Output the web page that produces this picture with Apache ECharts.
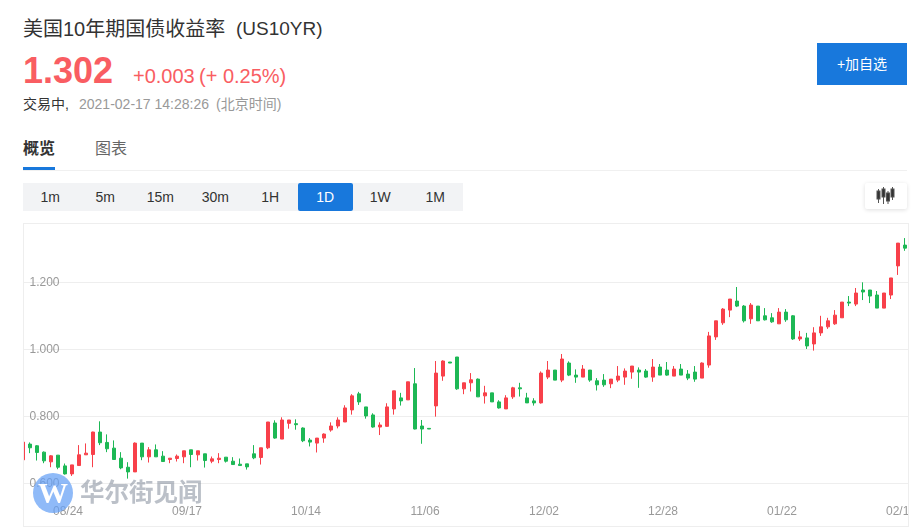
<!DOCTYPE html>
<html>
<head>
<meta charset="utf-8">
<script src="https://cdn.jsdelivr.net/npm/echarts@6/dist/echarts.min.js"></script>
<style>
html, body { margin: 0; padding: 0; background: #fff; }
body { width: 920px; height: 531px; position: relative; overflow: hidden; font-family: "Liberation Sans", "Noto Sans CJK SC", sans-serif; color: #333; }
.abs { position: absolute; white-space: nowrap; }
.up { color: #f95d62; }
.gray { color: #999; }
.periods { left: 23px; top: 183px; width: 440px; height: 28px; display: flex; background: #f7f8f9; border-radius: 2px; }
.periods div { width: 54.500px; margin-right: .5px; height: 28px; line-height: 28px; text-align: center; font-size: 14px; background: #f2f3f5; color: #333; }
.periods div.on { background: #1878dc; color: #fff; border-radius: 2px; }
.frame { left: 23px; top: 223px; width: 884px; height: 302px; border: 1px solid #eee; }
#clip { position: absolute; left: 24px; top: 224px; width: 884px; height: 302px; overflow: hidden; }
#chart { position: absolute; left: -24px; top: -224px; width: 920px; height: 531px; }
</style>
</head>
<body>
<div class="abs" style="left:23px;top:16px;font-size:20px;line-height:26px;">美国10年期国债收益率</div>
<div class="abs" style="left:236px;top:16px;font-size:19px;line-height:26px;">(US10YR)</div>
<div class="abs up" style="left:23px;top:49px;font-size:36px;line-height:44px;font-weight:bold;">1.302</div>
<div class="abs up" style="left:133px;top:63px;font-size:20px;line-height:26px;">+0.003</div>
<div class="abs up" style="left:199px;top:63px;font-size:20px;line-height:26px;">(+ 0.25%)</div>
<div class="abs" style="left:23px;top:95px;font-size:14px;line-height:18px;">交易中,</div>
<div class="abs gray" style="left:79px;top:95px;font-size:14px;line-height:18px;">2021-02-17 14:28:26</div>
<div class="abs gray" style="left:216px;top:95px;font-size:14px;line-height:18px;">(北京时间)</div>

<div class="abs" style="left:23px;top:138px;font-size:16px;line-height:22px;font-weight:bold;">概览</div>
<div class="abs" style="left:95px;top:138px;font-size:16px;line-height:22px;color:#666;">图表</div>
<div class="abs" style="left:23px;top:170px;width:884px;height:1px;background:#f0f0f0;"></div>
<div class="abs" style="left:23px;top:167px;width:32px;height:3px;background:#1878dc;"></div>

<div class="abs periods">
  <div>1m</div><div>5m</div><div>15m</div><div>30m</div><div>1H</div><div class="on">1D</div><div>1W</div><div>1M</div>
</div>

<div class="abs" style="left:817px;top:43px;width:90px;height:42px;line-height:42px;background:#1878dc;color:#fff;font-size:14px;text-align:center;">+加自选</div>
<div class="abs" style="left:865px;top:183px;width:42px;height:26px;background:#fff;border-radius:2px;box-shadow:0 1px 4px rgba(0,0,0,.13);">
  <svg width="42" height="26" style="display:block">
    <g fill="#333" stroke="#555" stroke-width="1">
      <path d="M13.5 6v14M18.5 4v17M23 8v13M27.500 4v13" fill="none"/>
      <rect x="12" y="8" width="3" height="8"/>
      <rect x="17" y="6" width="3" height="8"/>
      <rect x="21.500" y="10" width="3" height="8"/>
      <rect x="26" y="6" width="3" height="8"/>
    </g>
  </svg>
</div>

<div class="abs frame"></div>
<div id="clip"><div id="chart"></div></div>

<div class="abs" style="left:33px;top:473px;width:40px;height:40px;border-radius:50%;background:rgba(100,160,245,.72);color:#fff;font:bold 30px/40px 'Liberation Serif',serif;text-align:center;">W</div>
<div class="abs" style="left:80px;top:477px;font-size:24.500px;line-height:32px;font-weight:bold;color:rgba(125,135,150,.52);">华尔街见闻</div>

<script>
var days = [
	'08/14','08/17','08/18','08/19','08/20','08/21','08/24','08/25','08/26','08/27','08/28','08/31',
	'09/01','09/02','09/03','09/04','09/08','09/09','09/10','09/11','09/14','09/15','09/16','09/17','09/18',
	'09/21','09/22','09/23','09/24','09/25','09/28','09/29','09/30','10/02','10/05','10/06','10/07','10/08','10/09',
	'10/13','10/14','10/15','10/16','10/19','10/20','10/21','10/22','10/23','10/26','10/27','10/28','10/29','10/30',
	'11/02','11/03','11/04','11/05','11/06','11/09','11/10','11/11','11/12','11/13','11/16','11/17','11/18','11/19','11/20',
	'11/23','11/24','11/25','11/27','11/30','12/01','12/02','12/03','12/04','12/07','12/08','12/09','12/10','12/11',
	'12/14','12/15','12/16','12/17','12/18','12/21','12/22','12/23','12/24','12/28','12/29','12/30','12/31',
	'01/04','01/05','01/06','01/07','01/08','01/11','01/12','01/13','01/14','01/15','01/19','01/20','01/21','01/22',
	'01/25','01/26','01/27','01/28','01/29','02/01','02/02','02/03','02/04','02/05','02/08','02/09','02/10','02/11','02/12',
	'02/15','02/16','02/17'
];
var opens = [
	.670,.717,.712,.693,.664,.684,.652,.628,.653,.685,
	.686,.753,.722,.705,.675,.648,.634,.720,.679,.700,
	.681,.671,.674,.679,.700,.685,.688,.666,.671,.678,
	.666,.657,.658,.688,.677,.706,.780,.732,.779,.778,
	.765,.729,.720,.735,.759,.771,.783,.819,.867,.828,
	.804,.768,.770,.822,.855,.849,.897,.771,.764,.831,
	.920,.962,.977,.882,.900,.911,.861,.870,.843,.822,
	.858,.885,.855,.846,.840,.917,.938,.908,.959,.923,
	.917,.938,.906,.908,.897,.908,.917,.932,.938,.935,
	.917,.947,.938,.920,.941,.926,.932,.914,.953,1.037,
	1.079,1.117,1.144,1.129,1.091,1.129,1.100,1.094,1.076,1.111,
	1.100,1.031,1.034,1.016,1.049,1.067,1.076,1.094,1.141,1.135,
	1.177,1.177,1.162,1.123,1.162,1.249,1.311
];
var closes = [
	.723,.706,.692,.667,.682,.648,.628,.655,.685,.690,
	.753,.721,.703,.671,.646,.634,.720,.679,.700,.679,
	.665,.675,.681,.697,.686,.697,.668,.673,.675,.666,
	.656,.653,.649,.676,.706,.783,.735,.789,.789,.775,
	.727,.723,.735,.747,.771,.789,.825,.861,.843,.801,
	.768,.774,.828,.876,.846,.903,.762,.762,.762,.929,
	.965,.959,.882,.900,.909,.858,.870,.843,.825,.855,
	.885,.882,.840,.840,.929,.938,.908,.971,.923,.917,
	.941,.908,.894,.894,.911,.920,.935,.950,.932,.917,
	.947,.923,.923,.941,.923,.914,.911,.959,1.040,1.085,
	1.120,1.150,1.129,1.085,1.132,1.085,1.088,1.082,1.111,1.088,
	1.031,1.037,1.010,1.049,1.067,1.085,1.102,1.141,1.138,1.168,
	1.171,1.159,1.123,1.168,1.213,1.317,1.302
];
var lows = [
	.670,.690,.668,.660,.648,.642,.626,.622,.653,.685,
	.648,.714,.693,.670,.642,.614,.634,.669,.662,.679,
	.664,.660,.665,.660,.648,.668,.647,.660,.660,.662,
	.656,.652,.641,.672,.656,.702,.733,.732,.763,.760,
	.723,.710,.692,.721,.754,.764,.783,.805,.834,.793,
	.766,.744,.769,.805,.832,.849,.761,.718,.762,.799,
	.906,.959,.879,.866,.874,.858,.838,.843,.823,.822,
	.852,.859,.840,.832,.838,.911,.908,.902,.920,.900,
	.917,.903,.877,.888,.884,.902,.894,.912,.885,.915,
	.903,.923,.921,.920,.923,.908,.903,.914,.945,1.028,
	1.073,1.096,1.126,1.080,1.076,1.085,1.086,1.079,1.076,1.082,
	1.028,1.025,1.001,.996,1.040,1.061,1.073,1.094,1.129,1.129,
	1.147,1.138,1.123,1.123,1.150,1.222,1.294
];
var highs = [
	.723,.722,.714,.695,.684,.684,.659,.655,.714,.719,
	.754,.785,.746,.728,.693,.663,.722,.720,.708,.716,
	.696,.675,.686,.697,.700,.697,.688,.680,.690,.678,
	.678,.674,.658,.714,.706,.783,.788,.797,.789,.791,
	.767,.735,.735,.749,.782,.797,.833,.866,.873,.828,
	.809,.782,.839,.876,.870,.903,.944,.789,.764,.965,
	.967,.962,.977,.900,.929,.913,.891,.870,.848,.863,
	.888,.900,.870,.854,.934,.965,.938,.986,.964,.940,
	.953,.938,.914,.926,.911,.950,.943,.950,.946,.941,
	.971,.956,.962,.950,.956,.938,.950,.961,1.052,1.085,
	1.123,1.150,1.186,1.132,1.138,1.129,1.123,1.108,1.123,1.120,
	1.102,1.055,1.049,1.066,1.100,1.094,1.117,1.141,1.159,1.183,
	1.200,1.177,1.174,1.168,1.213,1.317,1.332
];

var candles = days.map(function (d, i) {
	return [opens[i], closes[i], lows[i], highs[i]];
});

var chart = echarts.init(document.getElementById('chart'));
chart.setOption({
	animation: false,
	// #clip cuts the first candle, the top of the scale and the last date label
	grid: { left: 19.5, top: 215.3, width: 889, height: 268 },
	xAxis: {
		type: 'category',
		data: days,
		axisLine: { show: false },
		axisTick: { show: false },
		splitLine: { show: false },
		axisLabel: {
			interval: function (i) { return (i - 6) % 17 === 0; },
			color: '#999',
			fontSize: 12,
			fontFamily: 'Liberation Sans',
			margin: 22,
			padding: [0, 0, 0, 6]
		}
	},
	yAxis: {
		type: 'value',
		min: 0.6,
		max: 1.4,
		interval: 0.2,
		axisLine: { show: false },
		axisTick: { show: false },
		splitLine: { lineStyle: { color: '#eee', width: 1 } },
		axisLabel: {
			inside: true,
			margin: 10,
			showMaxLabel: false,
			color: '#999',
			fontSize: 12,
			fontFamily: 'Liberation Sans',
			formatter: function (v) { return v.toFixed(3); }
		}
	},
	series: [{
		type: 'candlestick',
		data: candles,
		barWidth: 4,
		itemStyle: {
			color: '#f8404a',
			color0: '#1db855',
			borderColor: '#f8404a',
			borderColor0: '#1db855',
			borderWidth: 1
		}
	}]
});
</script>
</body>
</html>
